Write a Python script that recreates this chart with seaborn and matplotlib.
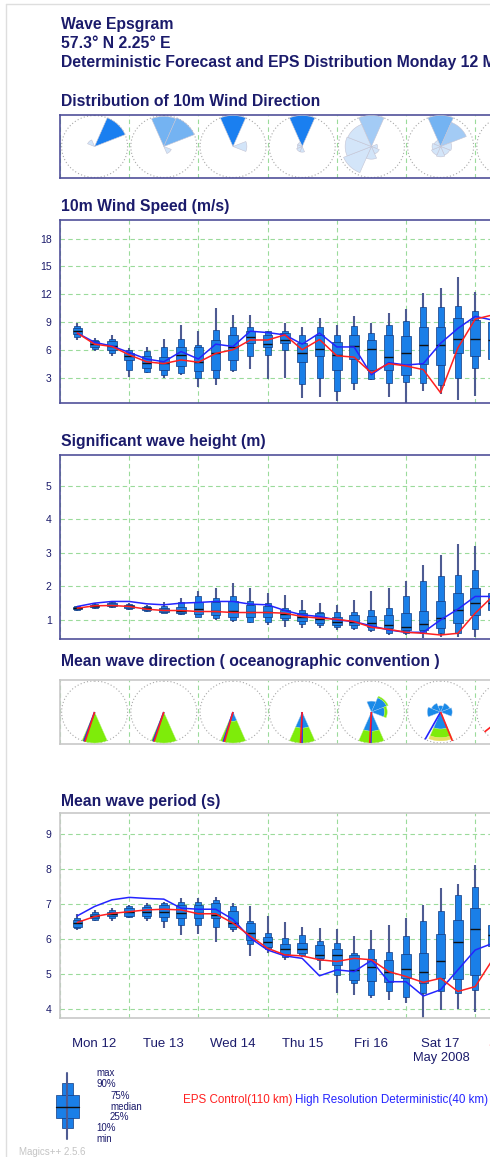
import numpy as np
import pandas as pd
import matplotlib
matplotlib.use("Agg")
import matplotlib.pyplot as plt
from matplotlib.patches import Polygon, Rectangle
import seaborn as sns

# ---------------- data ----------------
hours = [6, 12, 18, 24, 30, 36, 42, 48, 54, 60, 66, 72, 78, 84, 90, 96,
         102, 108, 114, 120, 126, 132, 138, 144, 150]
day_labels = ["Mon 12", "Tue 13", "Wed 14", "Thu 15", "Fri 16", "Sat 17", "Sun 18"]
day_label_colors = ["navy"] * 6 + ["red"]
month_label = "May 2008"

# 10m wind speed (m/s)
ws_max = [8.9, 7.3, 7.6, 6.2, 6.3, 7.2, 8.7, 8.0, 10.5, 9.8, 9.8, 8.0, 8.9, 8.5, 9.4, 8.7, 9.6, 8.9, 10.0, 10.4, 12.1, 12.7, 13.8, 12.2, 12.0]
ws_p90 = [8.6, 7.1, 7.2, 6.0, 5.9, 6.3, 7.2, 6.5, 8.1, 8.5, 8.5, 8.0, 8.0, 7.6, 8.5, 7.6, 8.6, 7.8, 8.7, 9.15, 10.6, 10.6, 10.7, 10.2, 10.0]
ws_p75 = [8.3, 6.9, 6.9, 5.6, 5.3, 5.2, 6.3, 6.3, 7.1, 7.6, 8.0, 7.6, 7.8, 6.7, 7.6, 6.8, 7.6, 7.1, 7.6, 7.5, 8.5, 8.5, 9.4, 9.2, 9.0]
ws_med = [8.0, 6.6, 6.4, 5.3, 4.6, 4.6, 5.4, 4.65, 5.7, 6.3, 7.35, 6.6, 7.1, 5.7, 6.1, 5.4, 6.4, 6.1, 5.2, 5.6, 6.5, 6.5, 7.2, 7.2, 7.0]
ws_p25 = [7.7, 6.3, 6.0, 4.9, 4.0, 3.8, 4.2, 3.7, 3.8, 4.9, 6.7, 6.3, 6.7, 4.7, 5.3, 3.8, 5.0, 3.8, 3.8, 3.3, 4.45, 4.4, 5.6, 5.3, 5.0]
ws_p10 = [7.4, 6.1, 5.6, 3.8, 3.6, 3.3, 3.5, 2.9, 2.9, 3.8, 5.3, 5.4, 6.0, 2.3, 2.9, 1.5, 2.4, 2.8, 2.4, 2.5, 2.4, 2.2, 2.9, 4.0, 3.5]
ws_min = [7.1, 5.9, 5.3, 3.1, 3.5, 3.0, 3.3, 2.0, 2.2, 3.6, 3.9, 2.8, 2.9, 0.8, 0.9, 0.5, 1.6, 2.7, 0.9, 0.2, 1.5, 1.25, 0.6, 1.0, 1.5]
ws_ctrl = [7.8, 6.6, 6.35, 5.45, 4.7, 4.5, 4.9, 4.65, 5.6, 6.0, 7.05, 7.05, 7.6, 6.0, 7.1, 5.35, 5.2, 3.5, 4.5, 4.25, 3.85, 1.35, 6.2, 9.3, 9.75]
ws_hres = [7.8, 6.8, 6.4, 5.7, 5.0, 4.7, 5.8, 5.0, 6.6, 6.35, 8.0, 7.85, 7.6, 6.6, 7.8, 6.3, 6.3, 3.3, 4.6, 4.35, 4.5, 6.7, 8.3, 9.6, 9.2]

# significant wave height (m)
hs_max = [1.42, 1.50, 1.55, 1.50, 1.45, 1.52, 1.65, 1.85, 1.95, 2.10, 1.95, 1.80, 1.75, 1.60, 1.50, 1.45, 1.60, 1.85, 1.95, 2.15, 2.65, 2.95, 3.25, 3.20, 2.25]
hs_p90 = [1.40, 1.47, 1.52, 1.47, 1.42, 1.40, 1.52, 1.70, 1.65, 1.70, 1.55, 1.50, 1.35, 1.30, 1.25, 1.25, 1.25, 1.30, 1.35, 1.72, 2.15, 2.30, 2.35, 2.50, 2.00]
hs_p75 = [1.38, 1.44, 1.49, 1.44, 1.39, 1.36, 1.38, 1.52, 1.52, 1.55, 1.45, 1.40, 1.30, 1.22, 1.20, 1.10, 1.15, 1.12, 1.15, 1.22, 1.28, 1.55, 1.80, 1.95, 1.80]
hs_med = [1.35, 1.41, 1.45, 1.40, 1.35, 1.30, 1.28, 1.32, 1.28, 1.28, 1.25, 1.25, 1.18, 1.10, 1.03, 0.95, 0.95, 0.92, 0.85, 0.78, 0.88, 1.05, 1.30, 1.50, 1.50]
hs_p25 = [1.32, 1.38, 1.41, 1.36, 1.31, 1.24, 1.20, 1.18, 1.15, 1.10, 1.08, 1.10, 1.05, 0.98, 0.92, 0.85, 0.85, 0.80, 0.75, 0.70, 0.70, 0.75, 0.90, 1.15, 1.30]
hs_p10 = [1.30, 1.35, 1.38, 1.33, 1.28, 1.22, 1.18, 1.10, 1.05, 1.00, 0.95, 0.95, 1.00, 0.88, 0.85, 0.80, 0.75, 0.70, 0.60, 0.60, 0.60, 0.60, 0.60, 0.72, 1.15]
hs_min = [1.28, 1.32, 1.35, 1.31, 1.25, 1.20, 1.15, 1.10, 1.00, 0.95, 0.90, 0.85, 0.80, 0.75, 0.75, 0.70, 0.70, 0.65, 0.55, 0.55, 0.45, 0.50, 0.50, 0.50, 1.10]
hs_ctrl = [1.35, 1.42, 1.43, 1.40, 1.32, 1.28, 1.28, 1.25, 1.25, 1.22, 1.22, 1.22, 1.20, 1.10, 1.05, 1.02, 0.95, 0.78, 0.72, 0.63, 0.60, 0.55, 0.60, 1.20, 1.70]
hs_hres = [1.40, 1.50, 1.55, 1.55, 1.48, 1.45, 1.50, 1.52, 1.55, 1.55, 1.47, 1.45, 1.28, 1.15, 1.10, 1.00, 0.95, 0.82, 0.70, 0.63, 0.63, 1.00, 1.32, 1.70, 1.70]

# mean wave period (s)
tm_max = [6.70, 6.83, 6.88, 6.97, 7.02, 7.07, 7.16, 7.16, 7.21, 7.04, 6.93, 6.66, 6.47, 6.35, 6.30, 6.28, 6.07, 6.26, 6.40, 6.59, 6.97, 7.45, 7.58, 8.12, 7.00]
tm_p90 = [6.60, 6.78, 6.82, 6.93, 6.97, 7.02, 7.07, 7.07, 7.12, 6.93, 6.51, 6.18, 6.02, 6.11, 5.95, 5.87, 5.59, 5.70, 5.63, 6.09, 6.52, 6.81, 7.26, 7.48, 6.70]
tm_p75 = [6.55, 6.72, 6.78, 6.88, 6.92, 6.97, 6.97, 6.97, 7.02, 6.80, 6.45, 6.06, 5.85, 5.87, 5.83, 5.70, 5.54, 5.41, 5.38, 5.57, 5.59, 6.13, 6.54, 6.88, 6.40]
tm_med = [6.45, 6.67, 6.72, 6.76, 6.78, 6.78, 6.75, 6.73, 6.69, 6.45, 6.18, 5.92, 5.70, 5.70, 5.54, 5.54, 5.11, 5.20, 5.06, 5.13, 5.04, 5.37, 5.92, 6.28, 6.10]
tm_p25 = [6.35, 6.60, 6.65, 6.65, 6.66, 6.64, 6.59, 6.59, 6.59, 6.35, 5.97, 5.78, 5.57, 5.59, 5.44, 5.25, 4.82, 4.80, 4.77, 4.87, 4.73, 4.87, 4.84, 4.97, 5.80]
tm_p10 = [6.30, 6.55, 6.60, 6.62, 6.60, 6.52, 6.40, 6.40, 6.35, 6.28, 5.85, 5.70, 5.49, 5.54, 5.38, 4.97, 4.73, 4.39, 4.49, 4.34, 4.44, 4.49, 4.46, 4.52, 5.60]
tm_min = [6.25, 6.50, 6.52, 6.59, 6.52, 6.30, 6.11, 6.14, 5.92, 6.20, 5.50, 5.59, 5.40, 5.47, 5.11, 4.44, 4.39, 4.30, 4.25, 4.15, 3.72, 3.96, 4.00, 3.91, 5.45]
tm_ctrl = [6.47, 6.64, 6.73, 6.78, 6.83, 6.85, 6.83, 6.72, 6.72, 6.45, 6.08, 5.73, 5.54, 5.51, 5.40, 5.35, 5.44, 5.40, 5.06, 4.92, 4.75, 4.87, 4.49, 4.63, 5.40]
tm_hres = [6.66, 6.93, 7.12, 7.19, 7.16, 7.14, 6.88, 6.85, 6.85, 6.56, 6.02, 5.68, 5.51, 5.44, 4.94, 5.11, 5.06, 5.38, 4.77, 4.77, 4.36, 4.54, 5.11, 5.68, 5.87]

# direction sectors (bearing, degrees clockwise from north)
sector_names = ["N", "NE", "E", "SE", "S", "SW", "W", "NW"]
sector_bearing = [0, 45, 90, 135, 180, 225, 270, 315]
rose_hours = [12, 36, 60, 84, 108, 132, 156]

# 10m wind direction: EPS probability (%) per sector, one row per day
wind_dir_prob = [
    [0, 95, 0, 0, 0, 0, 0, 5],
    [47, 50, 0, 3, 0, 0, 0, 0],
    [85, 0, 15, 0, 0, 0, 0, 0],
    [90, 0, 0, 0, 3, 3, 2, 2],
    [30, 0, 1, 2, 5, 25, 19, 18],
    [45, 32, 5, 4, 5, 4, 3, 2],
    [0, 0, 0, 0, 0, 0, 0, 0],
]

# mean wave direction: relative frequency per sector, stacked by class
wave_dir_blue = [
    [0, 0, 0, 0, 0, 0, 0, 0],
    [0, 0, 0, 0, 0, 0, 0, 0],
    [0, 0, 0, 0, 0.30, 0, 0, 0],
    [0, 0, 0, 0, 0.52, 0, 0, 0],
    [0.35, 0.50, 0.40, 0, 0.62, 0, 0, 0],
    [0.20, 0.30, 0.35, 0, 0.55, 0, 0.40, 0.30],
    [0, 0, 0, 0, 0, 0, 0, 0],
]
wave_dir_green = [
    [0, 0, 0, 0, 1.00, 0, 0, 0],
    [0, 0, 0, 0, 1.00, 0, 0, 0],
    [0, 0, 0, 0, 0.70, 0, 0, 0],
    [0, 0, 0, 0, 0.48, 0, 0, 0],
    [0, 0.05, 0.08, 0, 0.38, 0, 0, 0],
    [0, 0, 0, 0, 0.28, 0, 0, 0],
    [0, 0, 0, 0, 0, 0, 0, 0],
]
wave_dir_yellow = [
    [0, 0, 0, 0, 0, 0, 0, 0],
    [0, 0, 0, 0, 0, 0, 0, 0],
    [0, 0, 0, 0, 0, 0, 0, 0],
    [0, 0, 0, 0, 0, 0, 0, 0],
    [0, 0, 0, 0, 0, 0, 0, 0],
    [0, 0, 0, 0, 0.10, 0, 0, 0],
    [0, 0, 0, 0, 0, 0, 0, 0],
]
wave_dir_ctrl = [197, 197, 195, 183, 183, 159, 230]
wave_dir_hres = [199, 199, 197, 180, 181, 208, np.nan]

# ---------------- style ----------------
sns.set_style("white")
plt.rcParams["font.family"] = ["Liberation Sans", "DejaVu Sans"]

W, H, DPI = 490, 1157, 100
X0, DAYPX, NDAYS = 60.0, 69.2, 7
NAVY = "#1b1b6b"
FRAME = "#50509a"
GRAYFRAME = "#c8c8c8"
GRID = "#9bdb9b"
TICKG = "#66c266"
BOX = "#1a7fe8"
BOXEDGE = "#123a80"
WHISK = "#4e5b92"
RED = "#ff2020"
BLUE = "#2424ff"
NARROW = 6.0 / DAYPX
WIDE = 9.5 / DAYPX
HDR_FS = 11.3

fig = plt.figure(figsize=(W / DPI, H / DPI), dpi=DPI)


def add_ax(top, bottom):
    right = X0 + DAYPX * NDAYS
    return fig.add_axes([X0 / W, 1 - bottom / H, (right - X0) / W, (bottom - top) / H])


def base_style(ax, frame):
    ax.set_xlim(0, NDAYS)
    for s in ax.spines.values():
        s.set_color(frame)
        s.set_linewidth(1.2)
    ax.set_xticks(range(0, NDAYS))
    ax.tick_params(axis="x", which="major", direction="out", length=6, width=1.0,
                   color=TICKG, labelbottom=False)
    ax.grid(True, axis="x", color=GRID, ls=(0, (4, 3)), lw=0.8)
    ax.set_axisbelow(True)


def box_panel(ax, frame, ylim, yticks, mn, p10, p25, med, p75, p90, mx, ctrl, hres):
    base_style(ax, frame)
    t = np.array(hours) / 24.0
    ax.set_ylim(*ylim)
    ax.set_yticks(yticks)
    ax.grid(True, axis="y", color=GRID, ls=(0, (4, 3)), lw=0.8)
    ax.tick_params(axis="y", length=0, labelsize=7.5, labelcolor=NAVY, pad=6)
    mn, p10, p25, med, p75, p90, mx = map(np.array, (mn, p10, p25, med, p75, p90, mx))
    ax.vlines(t, mn, mx, color=WHISK, lw=1.5, zorder=2)
    ax.bar(t, p90 - p10, bottom=p10, width=NARROW, color=BOX, edgecolor=BOXEDGE,
           linewidth=0.5, zorder=3)
    ax.bar(t, p75 - p25, bottom=p25, width=WIDE, color=BOX, edgecolor=BOXEDGE,
           linewidth=0.5, zorder=4)
    ax.hlines(med, t - WIDE / 2, t + WIDE / 2, color="#101010", lw=1.0, zorder=5)
    df = pd.DataFrame({"t": t, "ctrl": ctrl, "hres": hres})
    sns.lineplot(data=df, x="t", y="hres", ax=ax, color=BLUE, lw=1.1, zorder=6,
                 estimator=None, sort=False, legend=False)
    sns.lineplot(data=df, x="t", y="ctrl", ax=ax, color=RED, lw=1.1, zorder=7,
                 estimator=None, sort=False, legend=False)
    ax.set_xlabel("")
    ax.set_ylabel("")


RX, RY = 33.0, 31.0


def sector_poly(tc, b_center, r0, r1, half=22.5):
    ang = np.radians(np.linspace(b_center - half, b_center + half, 16))
    outer = [(tc + RX * r1 * np.sin(a) / DAYPX, RY * r1 * np.cos(a)) for a in ang]
    if r0 <= 0:
        inner = [(tc, 0.0)]
    else:
        inner = [(tc + RX * r0 * np.sin(a) / DAYPX, RY * r0 * np.cos(a)) for a in ang[::-1]]
    return outer + inner


def rose_panel(ax, frame, half_h):
    base_style(ax, frame)
    ax.set_ylim(-half_h, half_h)
    ax.set_yticks([])
    th = np.linspace(0, 2 * np.pi, 200)
    for hh in rose_hours:
        tc = hh / 24.0
        ax.plot(tc + RX * np.sin(th) / DAYPX, RY * np.cos(th), ls=(0, (1, 2)),
                color="#a8a8a8", lw=0.8, zorder=1)


def wind_color(p):
    if p >= 60:
        return "#1a7ff0"
    if p >= 40:
        return "#74b3f2"
    if p >= 28:
        return "#a3cbf5"
    return "#d3e5f9"


# ---------------- panels ----------------
ax_wd = add_ax(115, 178)
rose_panel(ax_wd, FRAME, 31.5)
for hh, probs in zip(rose_hours, wind_dir_prob):
    pmax = max(probs)
    if pmax <= 0:
        continue
    for b, p in zip(sector_bearing, probs):
        if p <= 0:
            continue
        r = np.sqrt(p / pmax)
        ax_wd.add_patch(Polygon(sector_poly(hh / 24.0, b, 0, r), closed=True,
                                fc=wind_color(p), ec="#c4c4d4", lw=0.4, zorder=3))

ax_ws = add_ax(220, 403)
box_panel(ax_ws, FRAME, (0.25, 20.0), [3, 6, 9, 12, 15, 18],
          ws_min, ws_p10, ws_p25, ws_med, ws_p75, ws_p90, ws_max, ws_ctrl, ws_hres)

ax_hs = add_ax(455, 639)
box_panel(ax_hs, FRAME, (0.43, 5.92), [1, 2, 3, 4, 5],
          hs_min, hs_p10, hs_p25, hs_med, hs_p75, hs_p90, hs_max, hs_ctrl, hs_hres)

ax_wv = add_ax(680, 744)
rose_panel(ax_wv, GRAYFRAME, 32.0)
for hh, bl, gr, ye, bc, bh in zip(rose_hours, wave_dir_blue, wave_dir_green, wave_dir_yellow,
                                  wave_dir_ctrl, wave_dir_hres):
    tc = hh / 24.0
    for b, fb, fg, fy in zip(sector_bearing, bl, gr, ye):
        if fb > 0:
            ax_wv.add_patch(Polygon(sector_poly(tc, b, 0, fb), closed=True, fc="#1a8ae8",
                                    ec="#9cc4ee", lw=0.3, zorder=3))
        if fg > 0:
            ax_wv.add_patch(Polygon(sector_poly(tc, b, fb, fb + fg), closed=True, fc="#7eec0a",
                                    ec="#b8f080", lw=0.3, zorder=3))
        if fy > 0:
            ax_wv.add_patch(Polygon(sector_poly(tc, b, fb + fg, fb + fg + fy), closed=True,
                                    fc="#e4e060", ec="#e4e060", lw=0.3, zorder=3))
    for brg, col, z in ((bh, BLUE, 4), (bc, RED, 5)):
        if np.isnan(brg):
            continue
        a = np.radians(brg)
        ax_wv.plot([tc, tc + RX * np.sin(a) / DAYPX], [0, RY * np.cos(a)], color=col,
                   lw=1.2, zorder=z, solid_capstyle="butt")

ax_tm = add_ax(812.7, 1018.3)
box_panel(ax_tm, GRAYFRAME, (3.72, 9.62), [4, 5, 6, 7, 8, 9],
          tm_min, tm_p10, tm_p25, tm_med, tm_p75, tm_p90, tm_max, tm_ctrl, tm_hres)
ax_tm.set_xticks([d + 0.5 for d in range(NDAYS)], minor=True)
ax_tm.set_xticklabels(day_labels, minor=True)
ax_tm.tick_params(axis="x", which="minor", length=0, pad=14.5, labelsize=9.5, labelbottom=True)
for lab, col in zip(ax_tm.get_xticklabels(minor=True), day_label_colors):
    lab.set_color(NAVY if col == "navy" else RED)

# ---------------- overlay texts / legend ----------------
ov = fig.add_axes([0, 0, 1, 1], zorder=10)
ov.set_xlim(0, W)
ov.set_ylim(H, 0)
ov.axis("off")
ov.patch.set_alpha(0)

ov.plot([5.5, 5.5], [3.5, H], color="#dedede", lw=1.0)
ov.plot([5.5, W], [3.5, 3.5], color="#dedede", lw=1.0)

hdr = dict(color=NAVY, fontweight="bold", va="center", ha="left", fontsize=HDR_FS)
ov.text(61, 24, "Wave Epsgram", **hdr)
ov.text(61, 43, "57.3\u00b0 N 2.25\u00b0 E", **hdr)
ov.text(61, 63, "Deterministic Forecast and EPS Distribution Monday 12 May 2008 00 UTC", **hdr)
ov.text(61, 101, "Distribution of 10m Wind Direction", **hdr)
ov.text(61, 206, "10m Wind Speed (m/s)", **hdr)
ov.text(61, 441.5, "Significant wave height (m)", **hdr)
ov.text(61, 661.5, "Mean wave direction ( oceanographic convention )", **hdr)
ov.text(61, 801.5, "Mean wave period (s)", **hdr)

ov.text(441, 1058.5, month_label, fontsize=9.3, color=NAVY, ha="center", va="center")

# legend glyph
ov.plot([67.3, 67.3], [1073, 1139], color=WHISK, lw=1.5)
ov.add_patch(Rectangle((61.7, 1083.3), 11, 45, fc=BOX, ec=BOXEDGE, lw=0.5))
ov.add_patch(Rectangle((55.7, 1095), 23.3, 23.3, fc=BOX, ec=BOXEDGE, lw=0.5))
ov.plot([55.7, 79], [1106.7, 1106.7], color="#101010", lw=1.0)
leg = dict(fontsize=7, color=NAVY, va="center", ha="left")
ov.text(96, 1073.3, "max", **leg)
ov.text(96, 1084, "90%", **leg)
ov.text(110, 1096, "75%", **leg)
ov.text(110, 1106.7, "median", **leg)
ov.text(110, 1117.3, "25%", **leg)
ov.text(96.7, 1128.3, "10%", **leg)
ov.text(96, 1139.3, "min", **leg)

ov.text(182.7, 1100, "EPS Control(110 km)", fontsize=8.4, color=RED, va="center", ha="left")
ov.text(294.5, 1100, "High Resolution Deterministic(40 km)", fontsize=8.4, color=BLUE,
        va="center", ha="left")
ov.text(19, 1151.7, "Magics++ 2.5.6", fontsize=7, color="#c4c4c4", va="center", ha="left")

fig.savefig("out.png", dpi=DPI)
